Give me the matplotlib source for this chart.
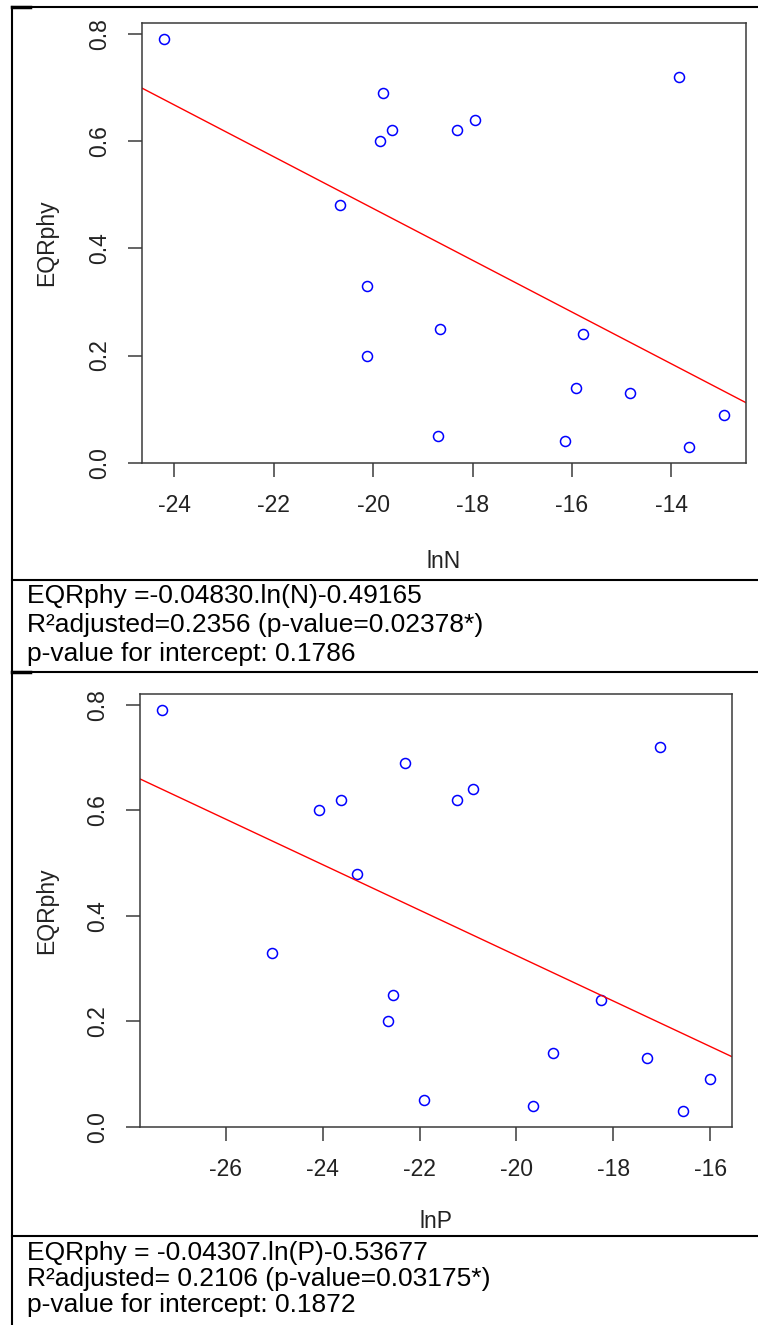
import numpy as np
import matplotlib
matplotlib.use("Agg")
import matplotlib.pyplot as plt
from matplotlib.lines import Line2D
from matplotlib.ticker import MultipleLocator, FormatStrFormatter

plt.rcParams['font.family'] = ['Liberation Sans', 'DejaVu Sans']
plt.rcParams['axes.unicode_minus'] = False

# lnN vs EQRphy
ln_n = np.array([-24.2, -20.66, -20.12, -19.86, -19.8, -19.63, -18.31, -17.96, -13.84,
                 -20.12, -18.65, -15.77, -15.91, -14.83, -12.95, -18.7, -16.15, -13.65])
eqr_n = np.array([0.79, 0.48, 0.33, 0.60, 0.69, 0.62, 0.62, 0.64, 0.72,
                  0.20, 0.25, 0.24, 0.14, 0.13, 0.09, 0.05, 0.04, 0.03])
coef_n = (-0.04830, -0.49165)

# lnP vs EQRphy
ln_p = np.array([-27.32, -23.3, -25.05, -24.08, -22.31, -23.63, -21.22, -20.89, -17.03,
                 -22.66, -22.54, -18.25, -19.24, -17.3, -16.0, -21.9, -19.65, -16.56])
eqr_p = np.array([0.79, 0.48, 0.33, 0.60, 0.69, 0.62, 0.62, 0.64, 0.72,
                  0.20, 0.25, 0.24, 0.14, 0.13, 0.09, 0.05, 0.04, 0.03])
coef_p = (-0.04307, -0.53677)

caption_n = ["EQRphy =-0.04830.ln(N)-0.49165",
             "R\u00b2adjusted=0.2356 (p-value=0.02378*)",
             "p-value for intercept: 0.1786"]
caption_p = ["EQRphy = -0.04307.ln(P)-0.53677",
             "R\u00b2adjusted= 0.2106 (p-value=0.03175*)",
             "p-value for intercept: 0.1872"]

W, H = 758, 1325
fig = plt.figure(figsize=(W / 100, H / 100), dpi=100)


def px_box(left, top, right, bottom):
    return [left / W, 1 - bottom / H, (right - left) / W, (bottom - top) / H]


def r_range(v):
    lo, hi = v.min(), v.max()
    d = 0.04 * (hi - lo)
    return lo - d, hi + d


def r_plot(ax, x, y, coef, xlab, xlab_off, ylab_off):
    ax.plot(x, y, 'o', ms=7.2, mfc='none', mec='#0000ff', mew=1.1)
    ax.set_xlim(*r_range(x))
    ax.set_ylim(*r_range(y))
    ax.axline((0, coef[1]), slope=coef[0], color='red', lw=1.0)
    ax.xaxis.set_major_locator(MultipleLocator(2))
    ax.xaxis.set_major_formatter(FormatStrFormatter('%d'))
    ax.yaxis.set_major_locator(MultipleLocator(0.2))
    ax.yaxis.set_major_formatter(FormatStrFormatter('%.1f'))
    for s in ax.spines.values():
        s.set_color('#3a3a3a')
        s.set_linewidth(1.1)
    ax.tick_params(axis='both', direction='out', length=10, width=1.1,
                   color='#3a3a3a', labelsize=16.5, labelcolor='#222222')
    ax.tick_params(axis='x', pad=12)
    ax.tick_params(axis='y', pad=12)
    for lab in ax.get_yticklabels():
        lab.set_rotation(90)
        lab.set_va('center')
    ax.set_xlabel(xlab, fontsize=16.5, color='#222222')
    ax.xaxis.label.set_va('center')
    ax.xaxis.set_label_coords(0.5, xlab_off)
    ax.set_ylabel('EQRphy', fontsize=16.5, color='#222222')
    ax.yaxis.label.set_va('center')
    ax.yaxis.set_label_coords(ylab_off, 0.5)


ax1 = fig.add_axes(px_box(142, 23, 746, 463))
r_plot(ax1, ln_n, eqr_n, coef_n, 'lnN', -99 / 440, -95 / 604)

ax2 = fig.add_axes(px_box(140, 694, 732, 1127))
r_plot(ax2, ln_p, eqr_p, coef_p, 'lnP', -95 / 433, -93 / 592)

# table borders
def hline(y, x0=12, x1=758, lw=1.5):
    fig.add_artist(Line2D([x0 / W, x1 / W], [1 - y / H, 1 - y / H], color='black', lw=lw))

hline(7)
hline(580)
hline(672)
hline(1236)
hline(7, 12, 30, lw=2.5)
hline(672, 12, 30, lw=2.5)
fig.add_artist(Line2D([12 / W, 12 / W], [1 - 7 / H, 0], color='black', lw=1.5))

for i, t in enumerate(caption_n):
    fig.text(27 / W, 1 - (596 + 29 * i) / H, t, fontsize=19, va='center', ha='left')
for i, t in enumerate(caption_p):
    fig.text(27 / W, 1 - (1253 + 26 * i) / H, t, fontsize=19, va='center', ha='left')

fig.savefig('out.png', dpi=100)
